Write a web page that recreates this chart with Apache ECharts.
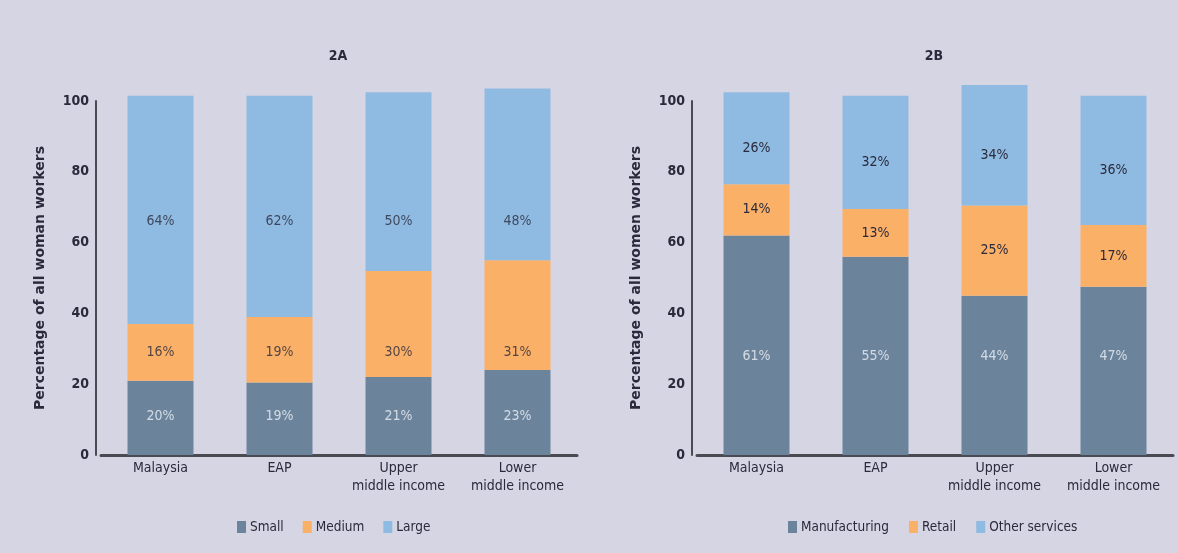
<!DOCTYPE html>
<html>
<head>
<meta charset="utf-8">
<script src="https://cdn.jsdelivr.net/npm/echarts@6/dist/echarts.min.js"></script>
<style>
html,body{margin:0;padding:0;background:#d6d5e3;}
#c{width:1178px;height:553px;}
</style>
</head>
<body>
<div id="c"></div>
<script>
// ---- data ----
const categories = ['Malaysia', 'EAP', 'Upper\nmiddle income', 'Lower\nmiddle income'];
const yTicks = [0, 20, 40, 60, 80, 100];

// 2A: firm size (bar heights, labels as printed)
const sizeNames = ['Small', 'Medium', 'Large'];
const small  = [21, 20.5, 22, 24];
const medium = [16, 18.5, 30, 31];
const large  = [64.5, 62.5, 50.5, 48.5];
const smallLabels  = ['20%', '19%', '21%', '23%'];
const mediumLabels = ['16%', '19%', '30%', '31%'];
const largeLabels  = ['64%', '62%', '50%', '48%'];

// 2B: sector
const sectorNames = ['Manufacturing', 'Retail', 'Other services'];
const manufacturing = [62, 56, 45, 47.5];
const retail        = [14.5, 13.5, 25.5, 17.5];
const otherServices = [26, 32, 34, 36.5];
const manufLabels  = ['61%', '55%', '44%', '47%'];
const retailLabels = ['14%', '13%', '25%', '17%'];
const otherLabels  = ['26%', '32%', '34%', '36%'];

// ---- style ----
const FONT = "'Liberation Sans Narrow', 'DejaVu Sans Condensed', 'Liberation Sans', sans-serif";
const TXT = '#2a2a3c';
const C_DARK = '#6b849c', C_ORANGE = '#fbb068', C_BLUE = '#8fbbe2';
// vertical levels (in axis units) where the 2A labels sit, as in the original
const levelA = {small: 11, medium: 29, large: 66};
const levelManuf = 28;

const chart = echarts.init(document.getElementById('c'));

function yAxisFor(gi, name) {
  return {
    gridIndex: gi, type: 'value', min: 0, max: 100, interval: 20, offset: 5,
    name: name, nameLocation: 'middle', nameGap: 49, nameRotate: 90,
    nameTextStyle: {fontFamily: "'DejaVu Sans', sans-serif", fontWeight: 'bold', fontSize: 14, color: TXT},
    axisLine: {show: true, lineStyle: {color: '#4a4a52', width: 2}},
    axisTick: {show: false}, splitLine: {show: false},
    axisLabel: {fontFamily: FONT, fontSize: 14, fontWeight: 'bold', color: TXT, margin: 7,
      formatter: v => yTicks.includes(v) ? String(v) : ''}
  };
}
function xAxisFor(gi) {
  return {
    gridIndex: gi, type: 'category', data: categories,
    axisLine: {lineStyle: {color: '#4a4a52', width: 3}},
    axisTick: {show: false},
    axisLabel: {fontFamily: FONT, fontSize: 14, color: TXT, margin: 4, lineHeight: 18, interval: 0}
  };
}
function barSeries(name, data, color, gi, labels, labelColor, showLabel, offset) {
  return {
    name: name, type: 'bar', stack: 's' + gi, xAxisIndex: gi, yAxisIndex: gi,
    data: data, barWidth: 66, clip: false,
    itemStyle: {color: color},
    label: {show: showLabel, position: 'inside', offset: offset || [0, 0],
      formatter: p => labels[p.dataIndex],
      fontFamily: FONT, fontSize: 14, color: labelColor}
  };
}
function labelSeries(gi, level, labels, color) {
  return {
    type: 'scatter', xAxisIndex: gi, yAxisIndex: gi, silent: true,
    data: categories.map((c, i) => [i, level]),
    symbolSize: 1, itemStyle: {color: 'rgba(0,0,0,0)'},
    label: {show: true, position: 'inside', formatter: p => labels[p.dataIndex],
      fontFamily: FONT, fontSize: 14, color: color}
  };
}

chart.setOption({
  animation: false,
  backgroundColor: '#d6d5e3',
  title: [
    {text: '2A', left: 333, top: 44, textAlign: 'center',
     textStyle: {fontFamily: FONT, fontSize: 14, fontWeight: 'bold', color: TXT}},
    {text: '2B', left: 929, top: 44, textAlign: 'center',
     textStyle: {fontFamily: FONT, fontSize: 14, fontWeight: 'bold', color: TXT}}
  ],
  legend: [
    {data: sizeNames, left: 237, top: 520, padding: 0, itemWidth: 9, itemHeight: 12, itemGap: 19,
     icon: 'rect', textStyle: {fontFamily: FONT, fontSize: 13.5, color: TXT, padding: [0, 0, 0, -1]}},
    {data: sectorNames, left: 788, top: 520, padding: 0, itemWidth: 9, itemHeight: 12, itemGap: 20,
     icon: 'rect', textStyle: {fontFamily: FONT, fontSize: 13.5, color: TXT, padding: [0, 0, 0, -1]}}
  ],
  grid: [
    {left: 101, right: 601, top: 101, bottom: 98},
    {left: 697, right: 5, top: 101, bottom: 98}
  ],
  xAxis: [xAxisFor(0), xAxisFor(1)],
  yAxis: [yAxisFor(0, 'Percentage of all woman workers'), yAxisFor(1, 'Percentage of all women workers')],
  series: [
    barSeries('Small', small, C_DARK, 0, smallLabels, '#eef0f6', false),
    barSeries('Medium', medium, C_ORANGE, 0, mediumLabels, TXT, false),
    barSeries('Large', large, C_BLUE, 0, largeLabels, TXT, false),
    labelSeries(0, levelA.small, smallLabels, '#eef0f6'),
    labelSeries(0, levelA.medium, mediumLabels, TXT),
    labelSeries(0, levelA.large, largeLabels, TXT),
    barSeries('Manufacturing', manufacturing, C_DARK, 1, manufLabels, '#eef0f6', false),
    barSeries('Retail', retail, C_ORANGE, 1, retailLabels, TXT, true),
    barSeries('Other services', otherServices, C_BLUE, 1, otherLabels, TXT, true, [0, 10]),
    labelSeries(1, levelManuf, manufLabels, '#eef0f6')
  ]
});
</script>
</body>
</html>
